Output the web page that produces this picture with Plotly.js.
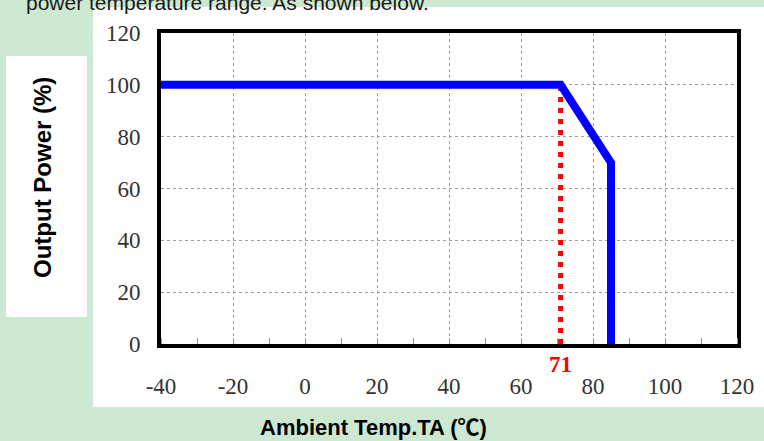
<!DOCTYPE html>
<html>
<head>
<meta charset="utf-8">
<script src="https://cdn.plot.ly/plotly-3.0.1.min.js"></script>
<style>html,body{margin:0;padding:0;background:#cde8d0;}#chart{width:764px;height:441px;}</style>
</head>
<body>
<div id="chart"></div>
<script>
// Data
const tempC = [-40, 71, 85, 85];
const outputPct = [100, 100, 70, 0];
const derateTemp = [71, 71];
const derateY = [0, 100];
const xTickVals = [-40, -20, 0, 20, 40, 60, 80, 100, 120];
const yTickVals = [0, 20, 40, 60, 80, 100, 120];
const derateLabel = '71';
const xTitleMain = 'Ambient Temp.TA (';
const xTitleUnit = '℃';
const xTitleEnd = ')';
const yTitle = 'Output Power (%)';
const headerText = 'power temperature range. As shown below.';

// Layout geometry (pixels)
const W = 764, H = 441;
const PL = 161, PR = 737, PT = 33, PB = 344;
const xp = px => (px - PL) / (PR - PL);
const yp = py => (PB - py) / (PB - PT);

const traces = [
  {x: derateTemp, y: derateY, mode: 'lines', line: {color: '#ff0000', width: 5, dash: '5px,6px'}, hoverinfo: 'skip', showlegend: false, cliponaxis: false},
  {x: tempC, y: outputPct, mode: 'lines', line: {color: '#0000ff', width: 8}, showlegend: false, cliponaxis: false}
];

const axisFont = {family: '"Liberation Serif", "Times New Roman", serif', size: 23, color: '#333'};

const layout = {
  width: W, height: H,
  margin: {l: PL, r: W - PR, t: PT, b: H - PB, pad: 0},
  paper_bgcolor: '#cde8d0',
  plot_bgcolor: '#ffffff',
  showlegend: false,
  xaxis: {
    range: [-40, 120], tickvals: xTickVals, ticktext: xTickVals.map(String),
    showgrid: true, gridcolor: '#a0a0a0', griddash: 'dot', gridwidth: 1,
    ticks: '', showline: true, mirror: true, linecolor: '#000', linewidth: 4,
    zeroline: false, tickfont: axisFont, ticklabelstandoff: 18, layer: 'below traces',
    minor: {dtick: 10, tick0: -40, ticks: 'inside', ticklen: 6, tickcolor: '#999', showgrid: false},
    fixedrange: true
  },
  yaxis: {
    range: [0, 120], tickvals: yTickVals, ticktext: yTickVals.map(String),
    showgrid: true, gridcolor: '#a0a0a0', griddash: 'dot', gridwidth: 1,
    ticks: '', showline: true, mirror: true, linecolor: '#000', linewidth: 4,
    zeroline: false, tickfont: axisFont, ticklabelstandoff: 12, layer: 'below traces',
    fixedrange: true
  },
  shapes: [
    {type: 'rect', xref: 'paper', yref: 'paper', x0: xp(93), x1: xp(764), y0: yp(407), y1: yp(7), fillcolor: '#ffffff', line: {width: 0}, layer: 'below'},
    {type: 'rect', xref: 'paper', yref: 'paper', x0: xp(6), x1: xp(87), y0: yp(317), y1: yp(56), fillcolor: '#ffffff', line: {width: 0}, layer: 'below'}
  ],
  annotations: [
    {text: headerText, xref: 'paper', yref: 'paper', x: xp(24), y: yp(2), xanchor: 'left', yanchor: 'middle', showarrow: false,
     font: {family: '"Liberation Sans", Arial, sans-serif', size: 21, color: '#1a1a1a'}},
    {text: '<b>' + yTitle + '</b>', xref: 'paper', yref: 'paper', x: xp(42), y: yp(178), xanchor: 'center', yanchor: 'middle', textangle: -90, showarrow: false,
     font: {family: '"Liberation Sans", Arial, sans-serif', size: 24, color: '#000'}},
    {text: '<b>' + xTitleMain + '<span style="font-family:\'Noto Sans CJK SC\'">' + xTitleUnit + '</span>' + xTitleEnd + '</b>',
     xref: 'paper', yref: 'paper', x: xp(373), y: yp(425), xanchor: 'center', yanchor: 'middle', showarrow: false,
     font: {family: '"Liberation Sans", Arial, sans-serif', size: 22, color: '#000'}},
    {text: '<b>' + derateLabel + '</b>', xref: 'x', yref: 'paper', x: derateTemp[0], y: yp(364), xanchor: 'center', yanchor: 'middle', showarrow: false,
     font: {family: '"Liberation Serif", "Times New Roman", serif', size: 23, color: '#ff0000'}}
  ]
};

Plotly.newPlot('chart', traces, layout, {displayModeBar: false, staticPlot: true});
</script>
</body>
</html>
